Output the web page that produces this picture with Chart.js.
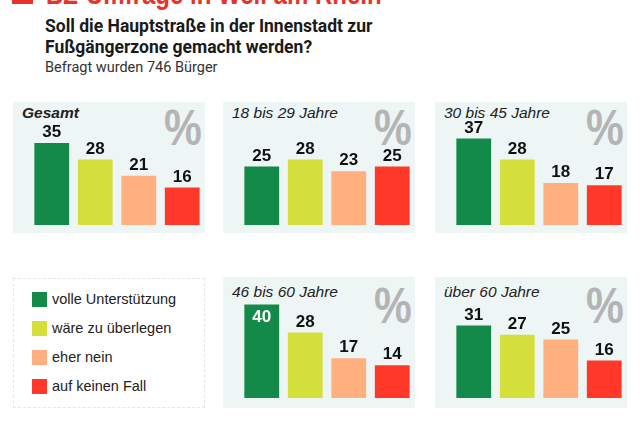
<!DOCTYPE html>
<html><head><meta charset="utf-8">
<script src="https://cdn.jsdelivr.net/npm/chart.js@4.4.1/dist/chart.umd.min.js"></script>
<style>
html,body{margin:0;padding:0;background:#fff;width:640px;height:427px;overflow:hidden;font-family:"Liberation Sans",Arial,sans-serif;}
.abs{position:absolute;}
.panel{position:absolute;width:192px;height:131px;background:#eef5f5;}
.panel canvas{position:absolute;left:0;top:0;}
.ptitle{position:absolute;font-style:italic;font-size:15.5px;color:#222;white-space:nowrap;line-height:1;}
.pct{position:absolute;font-size:50px;font-weight:bold;color:#b4b4b4;line-height:1;font-family:"Liberation Sans",Arial,sans-serif;transform:scaleX(0.85);transform-origin:left top;}
#legend{position:absolute;left:13px;top:278px;width:190px;height:128px;background:#fff;border:1px dashed #e6e6e6;}
.li{position:absolute;left:18px;font-size:14.5px;color:#222;white-space:nowrap;line-height:15px;}
.li span{display:inline-block;width:15px;height:15px;vertical-align:top;margin-right:5px;}
</style></head>
<body>
<div class="abs" style="left:12px;top:0;width:21px;height:4px;background:#e8332a;"></div>
<div class="abs" style="left:46px;top:-23px;font:bold 30px 'Liberation Sans',Arial,sans-serif;color:#e8332a;white-space:nowrap;transform:scaleX(0.8);transform-origin:left top;">BZ-Umfrage in Weil am Rhein</div>
<div class="abs" style="left:45px;top:16px;font:bold 17.5px Roboto,'Liberation Sans',sans-serif;color:#1a1a1a;line-height:21px;white-space:nowrap;">Soll die Hauptstraße in der Innenstadt zur<br>Fußgängerzone gemacht werden?</div>
<div class="abs" style="left:45px;top:59px;font:14.5px Roboto,'Liberation Sans',sans-serif;color:#333;white-space:nowrap;">Befragt wurden 746 Bürger</div>
<div id="wrap"></div>
<div id="legend"></div>
<script>
// ---- data ----
const categories = ["volle Unterstützung", "wäre zu überlegen", "eher nein", "auf keinen Fall"];
const groupTitles = ["Gesamt", "18 bis 29 Jahre", "30 bis 45 Jahre", "46 bis 60 Jahre", "über 60 Jahre"];
const gesamt    = [35, 28, 21, 16];
const age18to29 = [25, 28, 23, 25];
const age30to45 = [37, 28, 18, 17];
const age46to60 = [40, 28, 17, 14];
const ageOver60 = [31, 27, 25, 16];
const barColors = ["#148a4a", "#d5df3c", "#ffb07e", "#ff3829"];

const series = [gesamt, age18to29, age30to45, age46to60, ageOver60];
const panels = [
  {left:13, top:102, row:0},
  {left:223, top:102, row:0},
  {left:435, top:102, row:0},
  {left:223, top:277, row:1},
  {left:435, top:277, row:1}
];

const valueLabels = {
  id:'valueLabels',
  afterDatasetsDraw(chart){
    const ctx = chart.ctx;
    const meta = chart.getDatasetMeta(0);
    const data = chart.data.datasets[0].data;
    meta.data.forEach((bar,i)=>{
      const v = data[i];
      ctx.save();
      ctx.font = 'bold 17px "Liberation Sans", Arial, sans-serif';
      ctx.textAlign = 'center';
      if (v >= 40) {
        ctx.fillStyle = '#ffffff'; ctx.textBaseline = 'top';
        ctx.fillText(String(v), bar.x, bar.y + 4);
      } else {
        ctx.fillStyle = '#111111'; ctx.textBaseline = 'bottom';
        ctx.fillText(String(v), bar.x, bar.y - 2);
      }
      ctx.restore();
    });
  }
};

const wrap = document.getElementById('wrap');
panels.forEach((p, k)=>{
  const d = document.createElement('div');
  d.className = 'panel';
  d.style.left = p.left + 'px'; d.style.top = p.top + 'px';
  const t = document.createElement('div');
  t.className = 'ptitle';
  t.textContent = groupTitles[k];
  if (k === 0) t.style.fontWeight = 'bold';
  t.style.left = '9px'; t.style.top = (p.row === 0 ? 3 : 7) + 'px';
  d.appendChild(t);
  const pc = document.createElement('div');
  pc.className = 'pct'; pc.textContent = '%';
  pc.style.left = '151px'; pc.style.top = (p.row === 0 ? 1 : 4) + 'px';
  d.appendChild(pc);
  const c = document.createElement('canvas');
  c.width = 192; c.height = 131;
  c.style.width = '192px'; c.style.height = '131px';
  d.appendChild(c);
  wrap.appendChild(d);
  new Chart(c, {
    type:'bar',
    data:{ labels:categories, datasets:[{ data:series[k], backgroundColor:barColors, borderWidth:0, barPercentage:0.8, categoryPercentage:1.0 }] },
    options:{
      responsive:false, animation:false, devicePixelRatio:1,
      layout:{ padding:{ left:17, right:1, top:(p.row===0?6:4), bottom:(p.row===0?8:10) } },
      scales:{
        x:{ display:false },
        y:{ display:false, min:0, max:50 }
      },
      plugins:{ legend:{display:false}, tooltip:{enabled:false}, title:{display:false} }
    },
    plugins:[valueLabels]
  });
});

const lg = document.getElementById('legend');
categories.forEach((name,i)=>{
  const it = document.createElement('div');
  it.className = 'li';
  it.style.top = (13 + i*29) + 'px';
  it.innerHTML = '<span style="background:'+barColors[i]+'"></span>';
  it.appendChild(document.createTextNode(name));
  lg.appendChild(it);
});
</script>
</body></html>
